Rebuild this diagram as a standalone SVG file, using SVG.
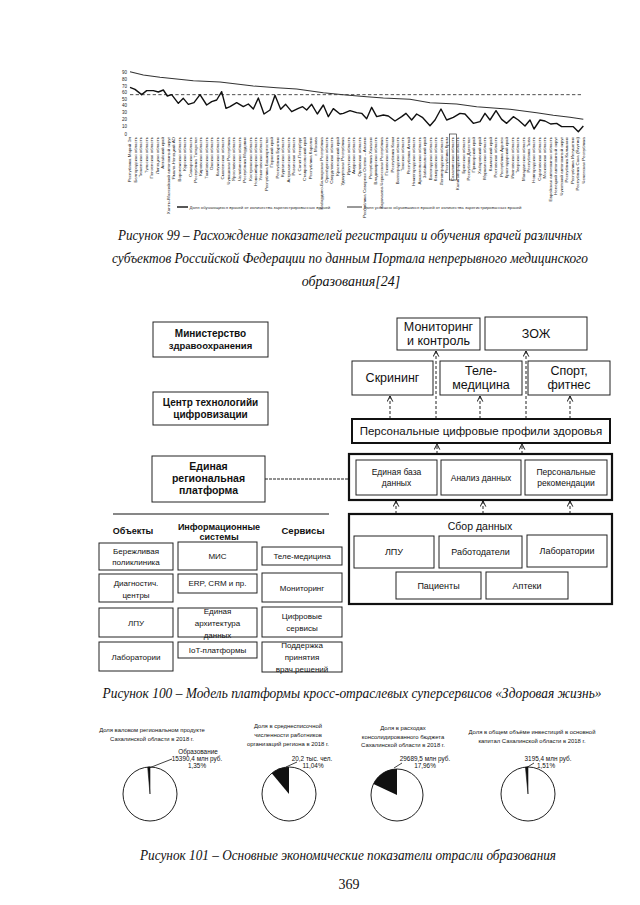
<svg xmlns="http://www.w3.org/2000/svg" width="640" height="905" viewBox="0 0 640 905">
<defs>
<style>
.cap{font-family:"Liberation Serif","Times New Roman",serif;font-style:italic;font-size:14px;fill:#111;text-anchor:middle}
.pg{font-family:"Liberation Serif","Times New Roman",serif;font-size:14px;fill:#111;text-anchor:middle}
.t{font-family:"Liberation Sans",Arial,sans-serif;fill:#111;text-anchor:middle}
.b{font-weight:bold}
.box{fill:#fff;stroke:#222;stroke-width:1}
.thick{fill:none;stroke:#111;stroke-width:2.2}
.dash{fill:none;stroke:#222;stroke-width:1;stroke-dasharray:3,2;marker-end:url(#arr)}
.rl{font-family:"Liberation Sans",Arial,sans-serif;font-size:4.4px;fill:#222;text-anchor:end}
.ax{font-family:"Liberation Sans",Arial,sans-serif;font-size:4.5px;fill:#222;text-anchor:end}
.lg{font-family:"Liberation Sans",Arial,sans-serif;font-size:4.3px;fill:#333}
.pt{font-family:"Liberation Sans",Arial,sans-serif;font-size:5.9px;fill:#111;text-anchor:middle}
.pl{font-family:"Liberation Sans",Arial,sans-serif;font-size:6.4px;fill:#111;text-anchor:middle}
.pie{fill:#fff;stroke:#222;stroke-width:1}
</style>
<marker id="arr" viewBox="0 0 10 10" refX="9" refY="5" markerWidth="7" markerHeight="7" markerUnits="userSpaceOnUse" orient="auto">
<path d="M1,1 L9,5 L1,9" fill="none" stroke="#111" stroke-width="1.4"/>
</marker>
</defs>
<rect width="640" height="905" fill="#fff"/>

<!-- Chart (Figure 99) -->
<g id="chart99">
<g class="ax">
<text x="127" y="73.5">90</text>
<text x="127" y="80.5">80</text>
<text x="127" y="87.5">70</text>
<text x="127" y="94">60</text>
<text x="127" y="100.5">50</text>
<text x="127" y="107">40</text>
<text x="127" y="114">30</text>
<text x="127" y="121">20</text>
<text x="127" y="128">10</text>
<text x="127" y="135.5">0</text>
</g>
<g transform="translate(110,60) scale(0.33333)">
<path d="M60,104 H1420" fill="none" stroke="#222" stroke-width="2.4" stroke-dasharray="10,7"/>
<path d="M60,35 L100,45 150,52 250,62 330,66 430,78 500,83 560,87 640,98 700,104 770,110 820,114 900,118 960,128 1040,132 1100,140 1200,148 1280,158 1330,166 1380,172 1420,178" fill="none" stroke="#333" stroke-width="3.2"/>
<path d="M60,82 L75,88 95,104 110,92 130,92 145,96 160,90 172,108 185,104 205,130 220,115 235,133 252,128 270,104 290,135 305,125 320,120 335,95 348,145 360,140 380,128 400,140 415,132 430,147 445,114 462,162 480,150 495,106 512,148 527,133 545,155 565,145 578,140 590,150 605,133 622,162 640,135 655,170 670,146 690,162 700,160 720,152 740,158 755,160 770,176 785,142 800,170 820,165 835,168 855,183 875,170 888,160 905,180 920,162 937,172 960,197 975,180 993,147 1010,180 1030,172 1050,160 1065,162 1090,190 1110,185 1125,160 1140,180 1158,152 1175,178 1190,190 1210,170 1225,180 1245,198 1260,180 1272,207 1290,180 1305,183 1322,192 1340,190 1355,200 1375,200 1390,200 1405,215 1420,198" fill="none" stroke="#111" stroke-width="4.2" stroke-linejoin="round"/>
</g>
<g class="rl">
<text x="131.4" y="137" transform="rotate(-90 131.4 137)">Республика Марий Эл</text>
<text x="136.9" y="137" transform="rotate(-90 136.9 137)">Белгородская область</text>
<text x="142.3" y="137" transform="rotate(-90 142.3 137)">Тюменская область</text>
<text x="147.8" y="137" transform="rotate(-90 147.8 137)">Тульская область</text>
<text x="153.2" y="137" transform="rotate(-90 153.2 137)">Пензенская область</text>
<text x="158.7" y="137" transform="rotate(-90 158.7 137)">Липецкая область</text>
<text x="164.2" y="137" transform="rotate(-90 164.2 137)">Алтайский край</text>
<text x="169.6" y="137" transform="rotate(-90 169.6 137)">Ханты-Мансийский автономный округ</text>
<text x="175.1" y="137" transform="rotate(-90 175.1 137)">Ямало-Ненецкий АО</text>
<text x="180.5" y="137" transform="rotate(-90 180.5 137)">Воронежская область</text>
<text x="186.0" y="137" transform="rotate(-90 186.0 137)">Курская область</text>
<text x="191.5" y="137" transform="rotate(-90 191.5 137)">Самарская область</text>
<text x="196.9" y="137" transform="rotate(-90 196.9 137)">Республика Татарстан</text>
<text x="202.4" y="137" transform="rotate(-90 202.4 137)">Кировская область</text>
<text x="207.8" y="137" transform="rotate(-90 207.8 137)">Тамбовская область</text>
<text x="213.3" y="137" transform="rotate(-90 213.3 137)">Омская область</text>
<text x="218.8" y="137" transform="rotate(-90 218.8 137)">Калужская область</text>
<text x="224.2" y="137" transform="rotate(-90 224.2 137)">Смоленская область</text>
<text x="229.7" y="137" transform="rotate(-90 229.7 137)">Чувашская Республика</text>
<text x="235.1" y="137" transform="rotate(-90 235.1 137)">Ярославская область</text>
<text x="240.6" y="137" transform="rotate(-90 240.6 137)">Челябинская область</text>
<text x="246.1" y="137" transform="rotate(-90 246.1 137)">Республика Мордовия</text>
<text x="251.5" y="137" transform="rotate(-90 251.5 137)">Костромская область</text>
<text x="257.0" y="137" transform="rotate(-90 257.0 137)">Новосибирская область</text>
<text x="262.4" y="137" transform="rotate(-90 262.4 137)">Ульяновская область</text>
<text x="267.9" y="137" transform="rotate(-90 267.9 137)">Республика Башкортостан</text>
<text x="273.4" y="137" transform="rotate(-90 273.4 137)">Пермский край</text>
<text x="278.8" y="137" transform="rotate(-90 278.8 137)">Республика Бурятия</text>
<text x="284.3" y="137" transform="rotate(-90 284.3 137)">Курганская область</text>
<text x="289.7" y="137" transform="rotate(-90 289.7 137)">Астраханская область</text>
<text x="295.2" y="137" transform="rotate(-90 295.2 137)">Рязанская область</text>
<text x="300.7" y="137" transform="rotate(-90 300.7 137)">г. Санкт-Петербург</text>
<text x="306.1" y="137" transform="rotate(-90 306.1 137)">Ставропольский край</text>
<text x="311.6" y="137" transform="rotate(-90 311.6 137)">Республика Карелия</text>
<text x="317.0" y="137" transform="rotate(-90 317.0 137)">г. Москва</text>
<text x="322.5" y="137" transform="rotate(-90 322.5 137)">Кабардино-Балкарская Республика</text>
<text x="328.0" y="137" transform="rotate(-90 328.0 137)">Оренбургская область</text>
<text x="333.4" y="137" transform="rotate(-90 333.4 137)">Свердловская область</text>
<text x="338.9" y="137" transform="rotate(-90 338.9 137)">Красноярский край</text>
<text x="344.3" y="137" transform="rotate(-90 344.3 137)">Удмуртская Республика</text>
<text x="349.8" y="137" transform="rotate(-90 349.8 137)">Иркутская область</text>
<text x="355.3" y="137" transform="rotate(-90 355.3 137)">Амурская область</text>
<text x="360.7" y="137" transform="rotate(-90 360.7 137)">Орловская область</text>
<text x="366.2" y="137" transform="rotate(-90 366.2 137)">Республика Северная Осетия – Алания</text>
<text x="371.6" y="137" transform="rotate(-90 371.6 137)">Республика Хакасия</text>
<text x="377.1" y="137" transform="rotate(-90 377.1 137)">Владимирская область</text>
<text x="382.6" y="137" transform="rotate(-90 382.6 137)">Карачаево-Черкесская Республика</text>
<text x="388.0" y="137" transform="rotate(-90 388.0 137)">Псковская область</text>
<text x="393.5" y="137" transform="rotate(-90 393.5 137)">Республика Коми</text>
<text x="398.9" y="137" transform="rotate(-90 398.9 137)">Волгоградская область</text>
<text x="404.4" y="137" transform="rotate(-90 404.4 137)">Томская область</text>
<text x="409.9" y="137" transform="rotate(-90 409.9 137)">Республика Алтай</text>
<text x="415.3" y="137" transform="rotate(-90 415.3 137)">Нижегородская область</text>
<text x="420.8" y="137" transform="rotate(-90 420.8 137)">Архангельская область</text>
<text x="426.2" y="137" transform="rotate(-90 426.2 137)">Забайкальский край</text>
<text x="431.7" y="137" transform="rotate(-90 431.7 137)">Вологодская область</text>
<text x="437.2" y="137" transform="rotate(-90 437.2 137)">Кемеровская область</text>
<text x="442.6" y="137" transform="rotate(-90 442.6 137)">Ленинградская область</text>
<text x="448.1" y="137" transform="rotate(-90 448.1 137)">Республика Крым</text>
<text x="453.5" y="137" transform="rotate(-90 453.5 137)">Сахалинская область</text>
<text x="459.0" y="137" transform="rotate(-90 459.0 137)">Калининградская область</text>
<text x="464.5" y="137" transform="rotate(-90 464.5 137)">Брянская область</text>
<text x="469.9" y="137" transform="rotate(-90 469.9 137)">Республика Дагестан</text>
<text x="475.4" y="137" transform="rotate(-90 475.4 137)">Приморский край</text>
<text x="480.8" y="137" transform="rotate(-90 480.8 137)">Хабаровский край</text>
<text x="486.3" y="137" transform="rotate(-90 486.3 137)">Мурманская область</text>
<text x="491.8" y="137" transform="rotate(-90 491.8 137)">Камчатский край</text>
<text x="497.2" y="137" transform="rotate(-90 497.2 137)">Ростовская область</text>
<text x="502.7" y="137" transform="rotate(-90 502.7 137)">Республика Адыгея</text>
<text x="508.1" y="137" transform="rotate(-90 508.1 137)">Краснодарский край</text>
<text x="513.6" y="137" transform="rotate(-90 513.6 137)">Ивановская область</text>
<text x="519.1" y="137" transform="rotate(-90 519.1 137)">Тверская область</text>
<text x="524.5" y="137" transform="rotate(-90 524.5 137)">Магаданская область</text>
<text x="530.0" y="137" transform="rotate(-90 530.0 137)">Республика Тыва</text>
<text x="535.4" y="137" transform="rotate(-90 535.4 137)">Новгородская область</text>
<text x="540.9" y="137" transform="rotate(-90 540.9 137)">Саратовская область</text>
<text x="546.4" y="137" transform="rotate(-90 546.4 137)">Московская область</text>
<text x="551.8" y="137" transform="rotate(-90 551.8 137)">Еврейская автономная область</text>
<text x="557.3" y="137" transform="rotate(-90 557.3 137)">Ненецкий автономный округ</text>
<text x="562.7" y="137" transform="rotate(-90 562.7 137)">Чукотский автономный округ</text>
<text x="568.2" y="137" transform="rotate(-90 568.2 137)">Республика Калмыкия</text>
<text x="573.7" y="137" transform="rotate(-90 573.7 137)">Республика Ингушетия</text>
<text x="579.1" y="137" transform="rotate(-90 579.1 137)">Республика Саха (Якутия)</text>
<text x="584.6" y="137" transform="rotate(-90 584.6 137)">Чеченская Республика</text>
</g>
<rect x="449.5" y="134" width="7" height="46" fill="none" stroke="#111" stroke-width="0.6"/>
<line x1="177" y1="207" x2="188" y2="207" stroke="#111" stroke-width="1.4"/>
<text class="lg" x="189.5" y="208.5">Доля обучающихся врачей от количества зарегистрированных врачей</text>
<line x1="347" y1="207" x2="362" y2="207" stroke="#333" stroke-width="1"/>
<text class="lg" x="363.5" y="208.5">Доля успешно обучившихся врачей от количества зарегистрированных врачей</text>
</g>

<g id="caption99">
<text class="cap" x="350" y="240" textLength="464" lengthAdjust="spacingAndGlyphs">Рисунок 99 – Расхождение показателей регистрации и обучения врачей различных</text>
<text class="cap" x="350" y="263" textLength="476" lengthAdjust="spacingAndGlyphs">субъектов Российской Федерации по данным Портала непрерывного медицинского</text>
<text class="cap" x="351" y="286">образования[24]</text>
</g>

<!-- Diagram (Figure 100) -->
<g id="connectors">
<line class="dash" x1="390" y1="419" x2="390" y2="396"/>
<line class="dash" x1="436" y1="419" x2="436" y2="351"/>
<line class="dash" x1="480" y1="419" x2="480" y2="396"/>
<line class="dash" x1="526" y1="419" x2="526" y2="351"/>
<line class="dash" x1="570" y1="419" x2="570" y2="396"/>
<line class="dash" x1="437" y1="454" x2="437" y2="444"/>
<line class="dash" x1="522" y1="454" x2="522" y2="444"/>
<line class="dash" x1="396" y1="514" x2="396" y2="501"/>
<line class="dash" x1="483" y1="514" x2="483" y2="501"/>
<line class="dash" x1="570" y1="514" x2="570" y2="501"/>
<line x1="265" y1="479" x2="349" y2="479" stroke="#222" stroke-width="1" stroke-dasharray="3,1"/>
</g>

<g id="n-ministry"><rect class="box" x="153" y="322" width="115" height="35"/>
<text class="t b" x="210.5" y="337" font-size="10">Министерство</text>
<text class="t b" x="210.5" y="349" font-size="9.5">здравоохранения</text></g>

<g id="n-center"><rect class="box" x="153" y="392" width="115" height="33"/>
<text class="t b" x="210.5" y="406" font-size="10">Центр технологийи</text>
<text class="t b" x="210.5" y="418" font-size="10">цифровизации</text></g>

<g id="n-monitoring"><rect class="box" x="397" y="318" width="83" height="32"/>
<text class="t" x="438.5" y="331" font-size="12.5">Мониторинг</text>
<text class="t" x="438.5" y="345" font-size="12.5">и контроль</text></g>

<g id="n-zozh"><rect class="box" x="485" y="317" width="102" height="33"/>
<text class="t" x="536" y="338" font-size="12.5">ЗОЖ</text></g>

<g id="n-screening"><rect class="box" x="352" y="361" width="81" height="34"/>
<text class="t" x="392.5" y="382" font-size="12.5">Скрининг</text></g>

<g id="n-tele"><rect class="box" x="440" y="361" width="82" height="34"/>
<text class="t" x="481" y="375" font-size="12.5">Теле-</text>
<text class="t" x="481" y="389" font-size="12.5">медицина</text></g>

<g id="n-sport"><rect class="box" x="528" y="361" width="82" height="34"/>
<text class="t" x="569" y="375" font-size="12.5">Спорт,</text>
<text class="t" x="569" y="389" font-size="12.5">фитнес</text></g>

<g id="n-profiles"><rect x="352" y="419" width="258" height="24" fill="#fff" stroke="#111" stroke-width="2"/>
<text class="t" x="481" y="435" font-size="11.5">Персональные цифровые профили здоровья</text></g>

<g id="n-platform"><rect class="box" x="152" y="456" width="113" height="46"/>
<text class="t b" x="208.5" y="470" font-size="10.5">Единая</text>
<text class="t b" x="208.5" y="482" font-size="10.5">региональная</text>
<text class="t b" x="208.5" y="494" font-size="10.5">платформа</text></g>

<g id="n-core"><rect class="thick" x="349" y="454" width="263" height="46"/>
<rect class="box" x="356" y="460" width="81" height="35"/>
<text class="t" x="396.5" y="475" font-size="8.5">Единая база</text>
<text class="t" x="396.5" y="486" font-size="8.5">данных</text>
<rect class="box" x="441" y="460" width="80" height="35"/>
<text class="t" x="481" y="480.5" font-size="8.5">Анализ данных</text>
<rect class="box" x="525" y="460" width="82" height="35"/>
<text class="t" x="566" y="475" font-size="8.5">Персональные</text>
<text class="t" x="566" y="486" font-size="8.5">рекомендации</text></g>

<g id="n-collect"><rect class="thick" x="349" y="514" width="263" height="90"/>
<text class="t" x="480" y="530" font-size="10.5">Сбор данных</text>
<rect class="box" x="354" y="536" width="80" height="32"/>
<text class="t" x="394" y="555" font-size="9">ЛПУ</text>
<rect class="box" x="439" y="536" width="83" height="32"/>
<text class="t" x="480.5" y="555" font-size="9">Работодатели</text>
<rect class="box" x="527" y="535" width="80" height="32"/>
<text class="t" x="567" y="554" font-size="9">Лаборатории</text>
<rect class="box" x="396" y="572" width="85" height="27"/>
<text class="t" x="438.5" y="589" font-size="9">Пациенты</text>
<rect class="box" x="486" y="572" width="82" height="27"/>
<text class="t" x="527" y="589" font-size="9">Аптеки</text></g>

<line id="separator" x1="113" y1="514" x2="329" y2="514" stroke="#111" stroke-width="1.2"/>

<g id="headers">
<text class="t b" x="133" y="534" font-size="9">Объекты</text>
<text class="t b" x="219" y="530" font-size="9">Информационные</text>
<text class="t b" x="219" y="540" font-size="9">системы</text>
<text class="t b" x="303" y="534" font-size="9.5">Сервисы</text>
</g>

<g id="n-obj1"><rect class="box" x="99" y="543" width="74" height="27"/>
<text class="t" x="136" y="554" font-size="8">Бережливая</text>
<text class="t" x="136" y="565" font-size="8">поликлиника</text></g>
<g id="n-obj2"><rect class="box" x="99" y="574" width="74" height="28"/>
<text class="t" x="136" y="586" font-size="8">Диагностич.</text>
<text class="t" x="136" y="598" font-size="8">центры</text></g>
<g id="n-obj3"><rect class="box" x="99" y="608" width="74" height="29"/>
<text class="t" x="136" y="626" font-size="8">ЛПУ</text></g>
<g id="n-obj4"><rect class="box" x="99" y="642" width="74" height="29"/>
<text class="t" x="136" y="660" font-size="8">Лаборатории</text></g>

<g id="n-is1"><rect class="box" x="178" y="542" width="79" height="28"/>
<text class="t" x="217.5" y="559" font-size="8">МИС</text></g>
<g id="n-is2"><rect class="box" x="178" y="574" width="79" height="19"/>
<text class="t" x="217.5" y="586" font-size="8">ERP, CRM и пр.</text></g>
<g id="n-is3"><rect class="box" x="178" y="608" width="79" height="29"/>
<text class="t" x="217.5" y="614" font-size="8">Единая</text>
<text class="t" x="217.5" y="626" font-size="8">архитектура</text>
<text class="t" x="217.5" y="638" font-size="8">данных</text></g>
<g id="n-is4"><rect class="box" x="178" y="642" width="79" height="16"/>
<text class="t" x="217.5" y="653" font-size="8">IoT-платформы</text></g>

<g id="n-sv1"><rect class="box" x="262" y="547" width="80" height="18"/>
<text class="t" x="302" y="559" font-size="8">Теле-медицина</text></g>
<g id="n-sv2"><rect class="box" x="262" y="573" width="80" height="29"/>
<text class="t" x="302" y="591" font-size="8">Мониторинг</text></g>
<g id="n-sv3"><rect class="box" x="262" y="607" width="80" height="30"/>
<text class="t" x="302" y="619" font-size="8">Цифровые</text>
<text class="t" x="302" y="631" font-size="8">сервисы</text></g>
<g id="n-sv4"><rect class="box" x="262" y="642" width="80" height="30"/>
<text class="t" x="302" y="648" font-size="8">Поддержка</text>
<text class="t" x="302" y="660" font-size="8">принятия</text>
<text class="t" x="302" y="672" font-size="8">врач.решений</text></g>

<g id="caption100">
<text class="cap" x="352" y="698" textLength="499" lengthAdjust="spacingAndGlyphs">Рисунок 100  – Модель платформы кросс-отраслевых суперсервисов «Здоровая жизнь»</text>
</g>

<!-- Figure 101 pies -->
<g id="pie1">
<text class="pt" x="152" y="732">Доля валовом региональном продукте</text>
<text class="pt" x="152" y="741">Сахалинской области  в 2018 г.</text>
<text class="pl" x="198" y="754">Образование</text>
<text class="pl" x="197" y="761">15390,4 млн руб.</text>
<text class="pl" x="197" y="768">1,35%</text>
<circle class="pie" cx="150" cy="794" r="27"/>
<path d="M150,794 L150,767 A27,27 0 0 0 147.7,767.1 Z" fill="#111" stroke="#111" stroke-width="0.6"/>
<line x1="149" y1="768" x2="172" y2="759" stroke="#111" stroke-width="0.8"/>
</g>
<g id="pie2">
<text class="pt" x="288" y="728">Доля в среднесписочной</text>
<text class="pt" x="288" y="737">численности работников</text>
<text class="pt" x="288" y="746">организаций  региона в 2018 г.</text>
<text class="pl" x="312" y="761">20,2 тыс. чел.</text>
<text class="pl" x="313" y="768">11,04%</text>
<circle class="pie" cx="289" cy="794" r="27"/>
<path d="M289,794 L289,767 A27,27 0 0 0 271.74,773.24 Z" fill="#111"/>
<line x1="286" y1="767" x2="297" y2="762" stroke="#111" stroke-width="0.8"/>
</g>
<g id="pie3">
<text class="pt" x="403" y="730">Доля в расходах</text>
<text class="pt" x="403" y="738.5">консолидированного бюджета</text>
<text class="pt" x="403" y="747">Сахалинской области в 2018 г.</text>
<text class="pl" x="425" y="761">29689,5 млн руб.</text>
<text class="pl" x="425" y="768">17,96%</text>
<circle class="pie" cx="397" cy="795" r="26"/>
<path d="M397,795 L397,769 A26,26 0 0 0 373.5,783.9 Z" fill="#111"/>
<line x1="394" y1="768" x2="402" y2="763" stroke="#111" stroke-width="0.8"/>
</g>
<g id="pie4">
<text class="pt" x="532" y="734">Доля в общем объёме инвестиций в основной</text>
<text class="pt" x="532" y="742.5">капитал Сахалинской области  в 2018 г.</text>
<text class="pl" x="548" y="761">3195,4 млн руб.</text>
<text class="pl" x="546" y="768">1,51%</text>
<circle class="pie" cx="528" cy="794" r="27"/>
<path d="M528,794 L528,767 A27,27 0 0 0 525.44,767.12 Z" fill="#111" stroke="#111" stroke-width="0.6"/>
<line x1="526" y1="768" x2="534" y2="763" stroke="#111" stroke-width="0.8"/>
</g>

<g id="caption101">
<text class="cap" x="348" y="860" textLength="416" lengthAdjust="spacingAndGlyphs">Рисунок 101 – Основные экономические показатели отрасли образования</text>
<text class="pg" x="349" y="889">369</text>
</g>
</svg>
